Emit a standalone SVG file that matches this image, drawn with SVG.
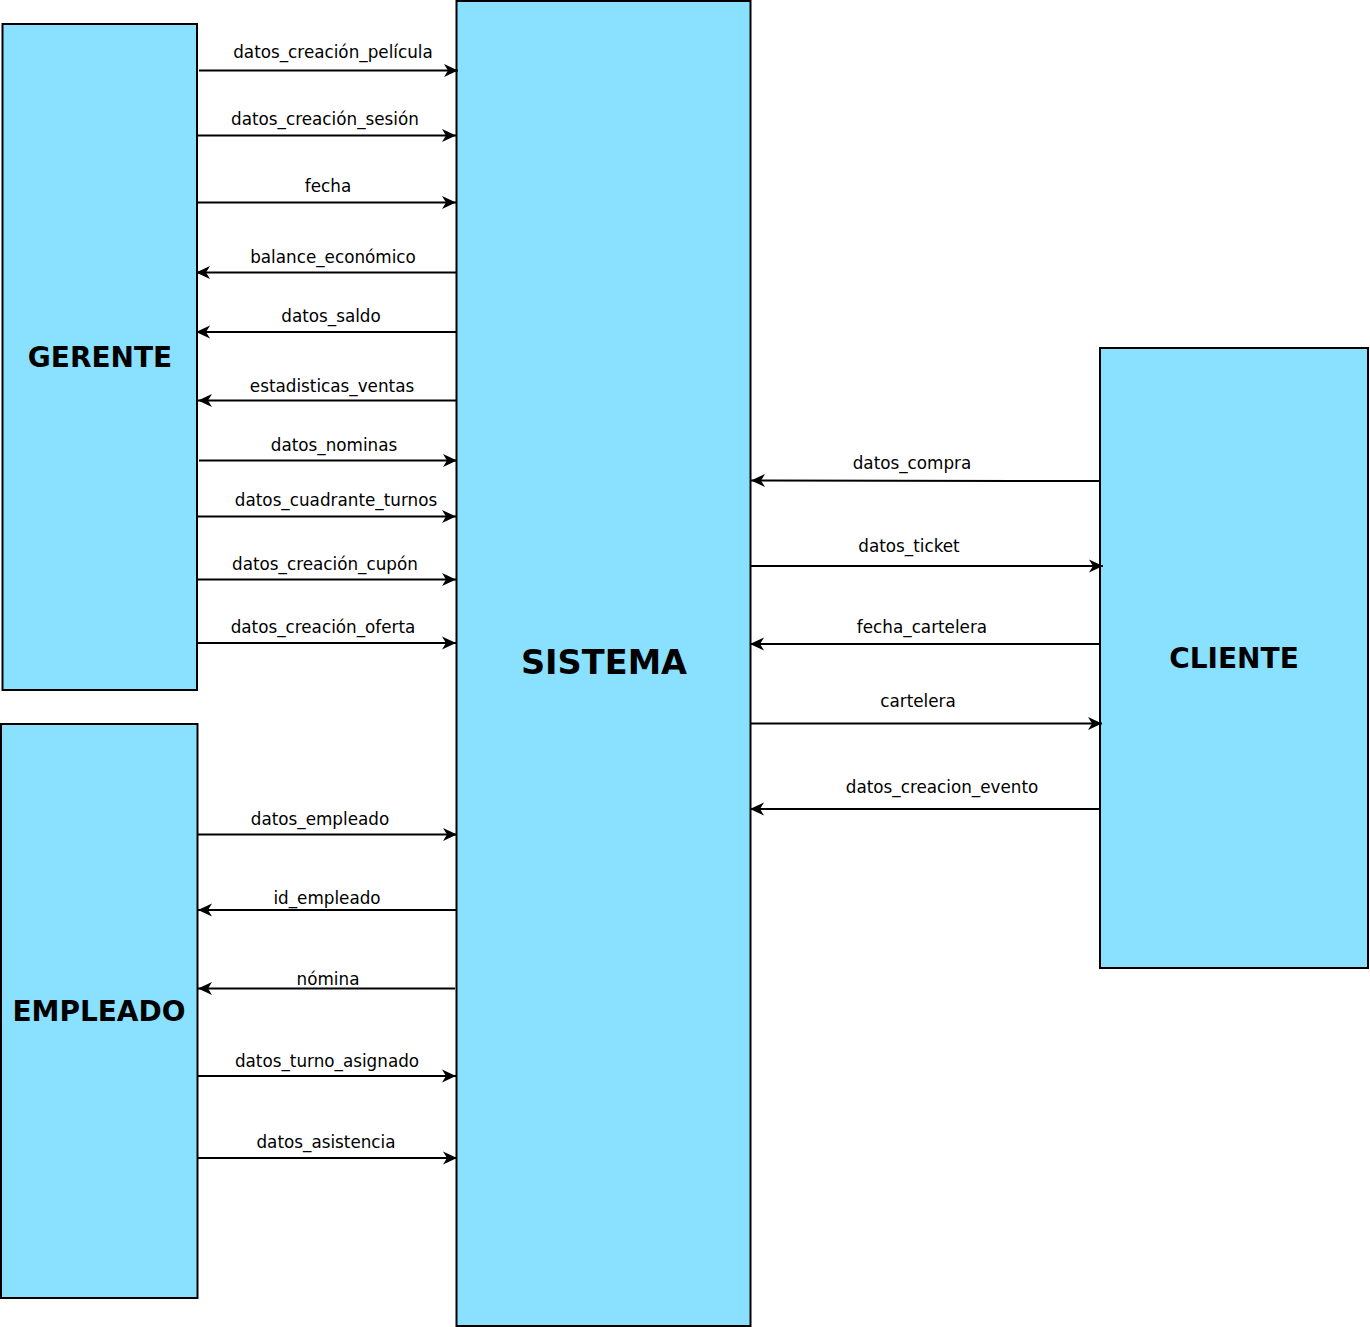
<svg xmlns="http://www.w3.org/2000/svg" width="1370" height="1327" viewBox="0 0 1370 1327">
<style>
.box{fill:#89e1ff;stroke:#000;stroke-width:2}
.title{font-family:"DejaVu Sans",sans-serif;font-weight:bold;font-size:28px;text-anchor:middle;fill:#000}
.lbl{font-family:"DejaVu Sans",sans-serif;font-size:16.8px;text-anchor:middle;fill:#000}
.ln{stroke:#000;stroke-width:2;fill:none;marker-end:url(#ah)}
</style>
<defs>
<marker id="ah" markerUnits="userSpaceOnUse" markerWidth="16" markerHeight="16" refX="14" refY="7" orient="auto" overflow="visible">
<path d="M0,0.5 L14,7 L0,13.5 L4,7 Z" fill="#000"/>
</marker>
</defs>
<rect width="1370" height="1327" fill="#fff"/>
<g id="gerente"><rect class="box" x="2.5" y="24" width="194.5" height="666"/><text class="title" x="100" y="367">GERENTE</text></g>
<g id="empleado"><rect class="box" x="1" y="724" width="196.5" height="574"/><text class="title" x="99" y="1021">EMPLEADO</text></g>
<g id="sistema"><rect class="box" x="456.5" y="1" width="294" height="1325"/><text class="title" x="604" y="674" style="font-size:33.6px">SISTEMA</text></g>
<g id="cliente"><rect class="box" x="1100" y="348" width="268" height="620"/><text class="title" x="1234" y="668">CLIENTE</text></g>
<g id="connectors">
<path class="ln" d="M199,70.5 L458,70.5"/><text class="lbl" x="333" y="58">datos_creación_película</text>
<path class="ln" d="M197,135.5 L456,135.5"/><text class="lbl" x="325" y="125">datos_creación_sesión</text>
<path class="ln" d="M197,202.5 L456,202.5"/><text class="lbl" x="328" y="192">fecha</text>
<path class="ln" d="M456,272.5 L196,272.5"/><text class="lbl" x="333" y="263">balance_económico</text>
<path class="ln" d="M456,332 L196,332"/><text class="lbl" x="331" y="322">datos_saldo</text>
<path class="ln" d="M456,400.5 L198,400.5"/><text class="lbl" x="332" y="392">estadisticas_ventas</text>
<path class="ln" d="M199,460.5 L457,460.5"/><text class="lbl" x="334" y="451">datos_nominas</text>
<path class="ln" d="M197,516.5 L456,516.5"/><text class="lbl" x="336" y="506">datos_cuadrante_turnos</text>
<path class="ln" d="M197,579.5 L456,579.5"/><text class="lbl" x="325" y="570">datos_creación_cupón</text>
<path class="ln" d="M197,643 L456,643"/><text class="lbl" x="323" y="633">datos_creación_oferta</text>
<path class="ln" d="M197,834.5 L457,834.5"/><text class="lbl" x="320" y="825">datos_empleado</text>
<path class="ln" d="M456,910 L198,910"/><text class="lbl" x="327" y="904">id_empleado</text>
<path class="ln" d="M455,988.5 L198,988.5"/><text class="lbl" x="328" y="985">nómina</text>
<path class="ln" d="M197,1076 L456,1076"/><text class="lbl" x="327" y="1067">datos_turno_asignado</text>
<path class="ln" d="M197,1158 L457,1158"/><text class="lbl" x="326" y="1148">datos_asistencia</text>
<path class="ln" d="M1100,481 L751,480.5"/><text class="lbl" x="912" y="469">datos_compra</text>
<path class="ln" d="M751,566 L1103,566"/><text class="lbl" x="909" y="552">datos_ticket</text>
<path class="ln" d="M1101,644 L750,644"/><text class="lbl" x="922" y="633">fecha_cartelera</text>
<path class="ln" d="M751,723.5 L1102,723.5"/><text class="lbl" x="918" y="707">cartelera</text>
<path class="ln" d="M1100,809 L750,809"/><text class="lbl" x="942" y="793">datos_creacion_evento</text>
</g>
</svg>
